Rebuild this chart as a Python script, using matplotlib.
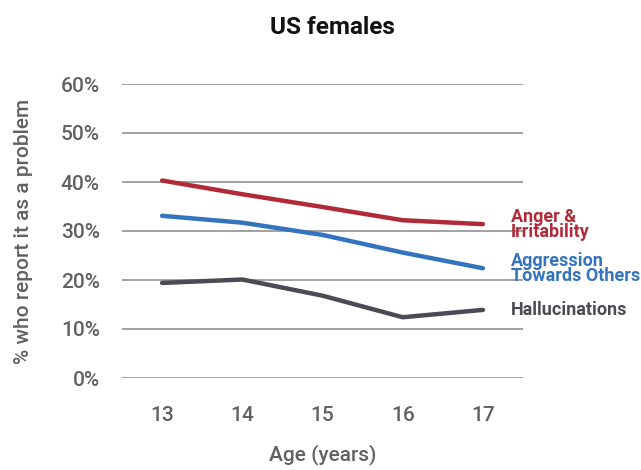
import matplotlib
matplotlib.use("Agg")
import matplotlib.pyplot as plt

ages = [13, 14, 15, 16, 17]
anger = [40.3, 37.5, 34.9, 32.2, 31.4]
aggression = [33.1, 31.7, 29.2, 25.6, 22.4]
hallucinations = [19.4, 20.1, 16.8, 12.4, 13.9]
yticks = [0, 10, 20, 30, 40, 50, 60]
ytick_labels = ["0%", "10%", "20%", "30%", "40%", "50%", "60%"]

series = [
    ("Anger &\nIrritability", anger, "#b02a37"),
    ("Aggression\nTowards Others", aggression, "#3473bd"),
    ("Hallucinations", hallucinations, "#4b4b55"),
]

plt.rcParams['font.family'] = ['Roboto', 'DejaVu Sans']

fig = plt.figure(figsize=(6.41, 4.70), dpi=100)
ax = fig.add_axes([122/641, (470-378)/470, 401/641, 294/470])

ax.set_xlim(12.5, 17.5)
ax.set_ylim(0, 60)
ax.set_yticks(yticks)
ax.set_yticklabels(ytick_labels)
ax.set_xticks(ages)
ax.set_xticklabels([str(a) for a in ages])
ax.grid(axis='y', color='#9a9a9a', linewidth=1.3)
ax.set_axisbelow(True)
for s in ax.spines.values():
    s.set_visible(False)
ax.tick_params(axis='both', length=0, labelsize=15, labelcolor='#616161')
ax.tick_params(axis='y', pad=16)
ax.tick_params(axis='x', pad=20)
for lbl in ax.get_xticklabels() + ax.get_yticklabels():
    lbl.set_fontweight('medium')

for name, vals, col in series:
    ax.plot(ages, vals, color=col, linewidth=3.2, solid_capstyle='round')
    ax.annotate(name, xy=(ages[-1], vals[-1]), xytext=(20, 0),
                textcoords='offset points', va='center', ha='left',
                color=col, fontsize=13, fontweight='bold', linespacing=0.8,
                annotation_clip=False)

ax.set_ylabel("% who report it as a problem", fontsize=15, color='#616161',
              fontweight='medium', labelpad=20)
ax.set_xlabel("Age (years)", fontsize=15, color='#616161',
              fontweight='medium', labelpad=14)
fig.text(332/641, 1 - 27/470, "US females", ha='center', va='center',
         fontsize=17.5, fontweight='bold', color='#111111')

fig.savefig("out.png", dpi=100)
